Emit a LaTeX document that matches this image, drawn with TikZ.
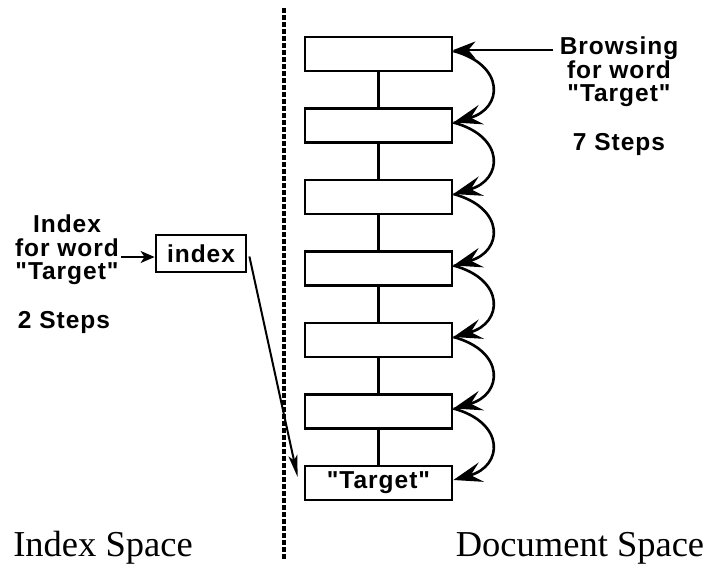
\documentclass[tikz,border=0pt]{standalone}
\usepackage{fontspec}
\setmainfont{Liberation Serif}
\newfontfamily\labfont{Liberation Sans}[LetterSpace=4]
\usetikzlibrary{arrows.meta}
\tikzset{
  labtext/.style={font=\labfont\bfseries\fontsize{24.5}{23.3}\selectfont, inner sep=0pt},
  lab/.style={labtext, align=center},
  space/.style={font=\fontsize{36.5}{38}\selectfont, inner sep=0pt, anchor=base},
  doc/.style={draw, line width=2.8pt, fill=white, minimum width=147pt, minimum height=34pt, inner sep=0pt, labtext},
  big/.style={-{Stealth[length=29pt, width=20pt, inset=11pt]}, line width=2.6pt},
  pointer/.style={-{Stealth[length=22pt, width=17pt, inset=7pt]}, line width=2.4pt},
  small/.style={-{Stealth[length=22pt, width=9pt, inset=5pt]}, line width=2pt},
  divider/.style={line width=4pt, dash pattern=on 4.5pt off 2.5pt}
}
\begin{document}
\begin{tikzpicture}[x=1pt, y=-1pt]
  \useasboundingbox (0,0) rectangle (707,565);

  % divider between the two spaces
  \coordinate (dtop) at (284,8);
  \coordinate (dbot) at (284,560);
  \draw[divider] (dtop) -- (dbot);

  % chain of documents
  \foreach \i/\y in {1/54, 2/125.5, 3/197, 4/268.5, 5/340, 6/411.5} {
    \node[doc] (b\i) at (378.5,\y) {};
  }
  \node[doc] (b7) at (378.5,483) {"Target"};
  \foreach \i/\j in {1/2, 2/3, 3/4, 4/5, 5/6, 6/7} {
    \draw[line width=2.8pt] (b\i.south) -- (b\j.north);
    \draw[big] ([yshift=3pt]b\i.east) .. controls +(52,14) and +(50,-14) .. ([yshift=3pt]b\j.east);
  }

  % browsing label
  \node[lab, anchor=north] (browse) at (619,37) {Browsing\\for word\\"Target"};
  \node[labtext, anchor=base] (bsteps) at (619,150) {7 Steps};
  \coordinate (bstart) at (553,50);
  \draw[pointer] (bstart) -- (b1.east |- bstart);

  % index label and box
  \node[lab, anchor=north] (ilab) at (67,215) {Index\\for word\\"Target"};
  \node[labtext, anchor=base] (isteps) at (64,328) {2 Steps};
  \node[doc, minimum width=90pt, minimum height=37pt] (ix) at (201,253.5) {index};
  \coordinate (istart) at (121,257);
  \draw[-{Stealth[length=14pt, width=12pt, inset=4pt]}, line width=2pt] (istart) -- (ix.west |- istart);
  \draw[small] ([shift={(2,3)}]ix.east) -- ([shift={(-6,-6)}]b7.west);

  % space captions
  \node[space] (ispace) at (103,556) {Index Space};
  \node[space] (dspace) at (580,556) {Document Space};
\end{tikzpicture}
\end{document}
